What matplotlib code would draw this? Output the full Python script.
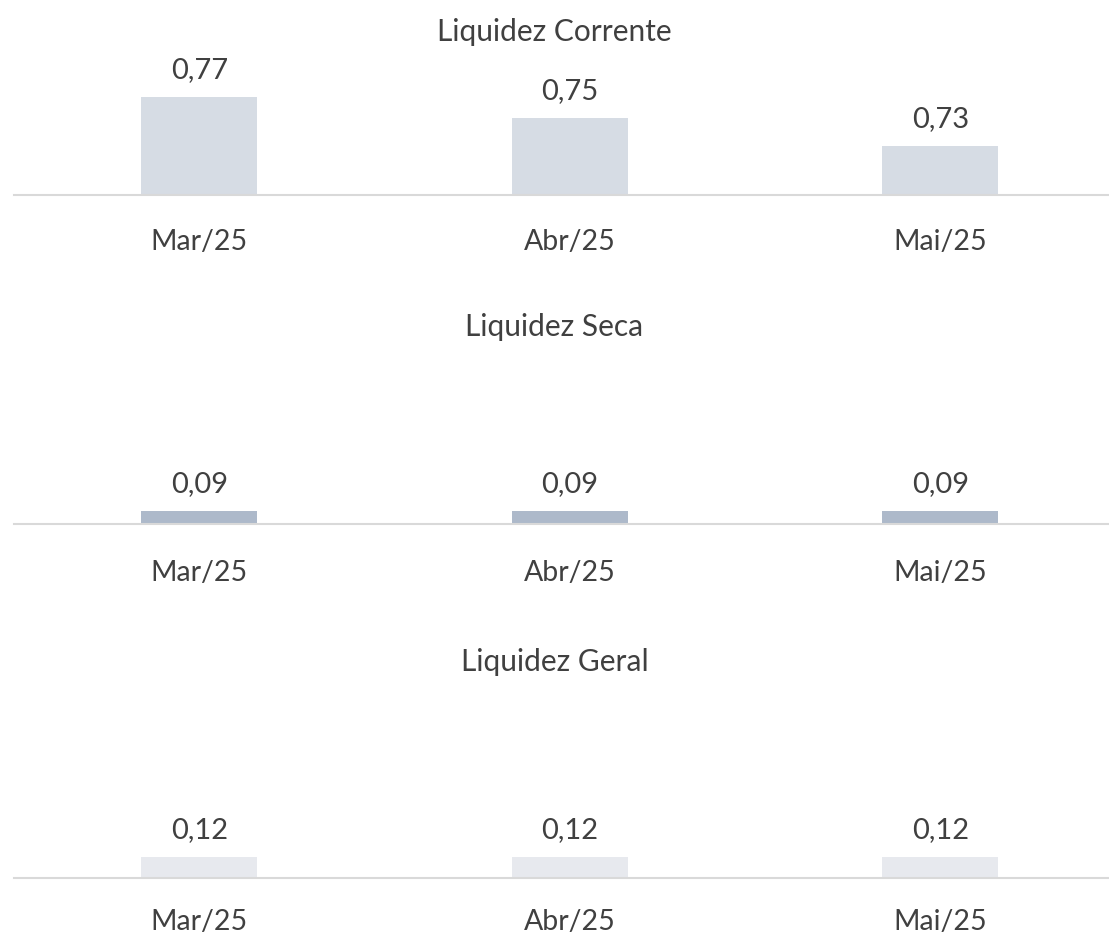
import matplotlib
matplotlib.use("Agg")
import matplotlib.pyplot as plt
from matplotlib.transforms import offset_copy

categories = ["Mar/25", "Abr/25", "Mai/25"]
titles = ["Liquidez Corrente", "Liquidez Seca", "Liquidez Geral"]
corrente = [0.772, 0.754, 0.731]
seca = [0.09, 0.09, 0.09]
geral = [0.12, 0.12, 0.12]
series = [corrente, seca, geral]

colors = ["#D6DCE4", "#ADB9CA", "#E7E9EE"]
text_color = "#404040"
axis_color = "#D9D9D9"

W, H = 1109, 933
fig = plt.figure(figsize=(W / 100, H / 100), dpi=100)
plt.rcParams["font.family"] = ["Lato", "DejaVu Sans"]

# layout in pixels (from top)
baselines = [195, 524, 878]
title_y = [32, 327, 662]
tick_pad_px = [55, 57, 52]
ymins = [0.69, 0.0, 0.0]
px_per_unit = [1200, 145, 175]
ax_h_px = 120
left_px, width_px = 14, 1111.5

for i, vals in enumerate(series):
    bottom = 1 - baselines[i] / H
    ax = fig.add_axes([left_px / W, bottom, width_px / W, ax_h_px / H])
    x = range(len(categories))
    ax.bar(x, vals, width=0.313, color=colors[i], bottom=0)
    ax.set_xlim(-0.5, 2.5)
    ax.set_ylim(ymins[i], ymins[i] + ax_h_px / px_per_unit[i])
    for s in ["top", "left", "right"]:
        ax.spines[s].set_visible(False)
    ax.spines["bottom"].set_color(axis_color)
    ax.spines["bottom"].set_linewidth(1.5)
    ax.set_yticks([])
    ax.set_xticks(list(x))
    ax.set_xticklabels(categories, fontsize=20.5, color=text_color, va="baseline")
    ax.tick_params(axis="x", length=0, pad=tick_pad_px[i] * 0.72)
    ax.patch.set_alpha(0)
    trans = offset_copy(ax.transData, fig=fig, x=0, y=13.5, units="points")
    for xi, v in zip(x, vals):
        ax.text(xi, v, f"{v:.2f}".replace(".", ","), ha="center", va="baseline",
                fontsize=21, color=text_color, transform=trans)
    fig.text(0.5, 1 - title_y[i] / H, titles[i], ha="center", va="center",
             fontsize=21.5, color=text_color)

fig.savefig("out.png", dpi=100)
